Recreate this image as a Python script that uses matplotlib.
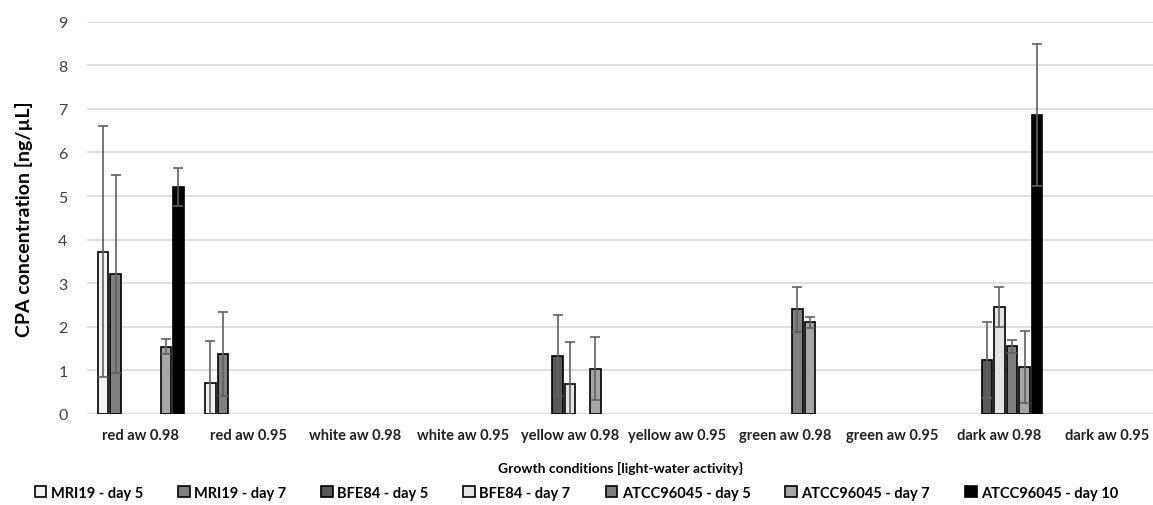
import numpy as np
import matplotlib.pyplot as plt

plt.rcParams['font.family'] = ['Lato', 'DejaVu Sans']

categories = ["red aw 0.98", "red aw 0.95", "white aw 0.98", "white aw 0.95",
              "yellow aw 0.98", "yellow aw 0.95", "green aw 0.98", "green aw 0.95",
              "dark aw 0.98", "dark aw 0.95"]
series = ["MRI19 - day 5", "MRI19 - day 7", "BFE84 - day 5", "BFE84 - day 7",
          "ATCC96045 - day 5", "ATCC96045 - day 7", "ATCC96045 - day 10"]
n = np.nan

# mean values, one list per series (categories in order)
mri19_d5 = [3.72, 0.70, n, n, n, n, n, n, n, n]
mri19_d7 = [3.21, 1.38, n, n, n, n, n, n, n, n]
bfe84_d5 = [n, n, n, n, 1.34, n, n, n, 1.24, n]
bfe84_d7 = [n, n, n, n, 0.68, n, n, n, 2.46, n]
atcc_d5 = [n, n, n, n, n, n, 2.40, n, 1.55, n]
atcc_d7 = [1.54, n, n, n, 1.04, n, 2.10, n, 1.08, n]
atcc_d10 = [5.21, n, n, n, n, n, n, n, 6.85, n]

# standard deviations
mri19_d5_err = [2.88, 0.97, n, n, n, n, n, n, n, n]
mri19_d7_err = [2.28, 0.97, n, n, n, n, n, n, n, n]
bfe84_d5_err = [n, n, n, n, 0.94, n, n, n, 0.87, n]
bfe84_d7_err = [n, n, n, n, 0.96, n, n, n, 0.46, n]
atcc_d5_err = [n, n, n, n, n, n, 0.52, n, 0.15, n]
atcc_d7_err = [0.17, n, n, n, 0.73, n, 0.12, n, 0.83, n]
atcc_d10_err = [0.43, n, n, n, n, n, n, n, 1.63, n]

values = [mri19_d5, mri19_d7, bfe84_d5, bfe84_d7, atcc_d5, atcc_d7, atcc_d10]
errors = [mri19_d5_err, mri19_d7_err, bfe84_d5_err, bfe84_d7_err,
          atcc_d5_err, atcc_d7_err, atcc_d10_err]
colors = ["#f2f2f2", "#808080", "#595959", "#e4e4e4", "#7f7f7f", "#a6a6a6", "#000000"]

fig = plt.figure(figsize=(11.53, 5.06), dpi=100)
ax = fig.add_axes([0.0755, 0.18, 0.9245, 0.775])

x = np.arange(len(categories))
slot = 0.117
for i, (vals, errs, c) in enumerate(zip(values, errors, colors)):
    pos = x + (i - 3) * slot
    ax.bar(pos, vals, width=slot * 0.84, color=c, edgecolor="black",
           linewidth=1.2, label=series[i], zorder=2)
    ax.errorbar(pos, vals, yerr=errs, fmt="none", ecolor="#606060",
                elinewidth=1.2, capsize=3.5, capthick=1.2, zorder=3)

ax.set_ylim(0, 9)
ax.set_xlim(-0.5, 9.43)
ax.set_yticks(range(0, 10))
ax.yaxis.grid(True, color="#d9d9d9", linewidth=1.2, zorder=0)
ax.set_axisbelow(True)
for s in ax.spines.values():
    s.set_visible(False)
ax.tick_params(axis="both", length=0, labelsize=11.5, colors="#404040")
ax.tick_params(axis="y", pad=14)
ax.set_xticks(x)
ax.set_xticklabels(categories, fontsize=10.5, fontweight="bold", color="#202020")
ax.tick_params(axis="x", pad=10)

ax.set_ylabel("CPA concentration [ng/µL]", fontsize=14, fontweight="bold",
              labelpad=18)
ax.set_xlabel("Growth conditions [light-water activity}", fontsize=10,
              fontweight="bold", labelpad=14)

handles, labels = ax.get_legend_handles_labels()
fig.legend(handles, labels, loc="center", bbox_to_anchor=(0.5, 0.024), ncol=7,
           frameon=False, prop={"weight": "bold", "size": 10.5},
           handlelength=0.8, handleheight=0.8, handletextpad=0.3,
           columnspacing=2.4)

fig.savefig("out.png", dpi=100)
